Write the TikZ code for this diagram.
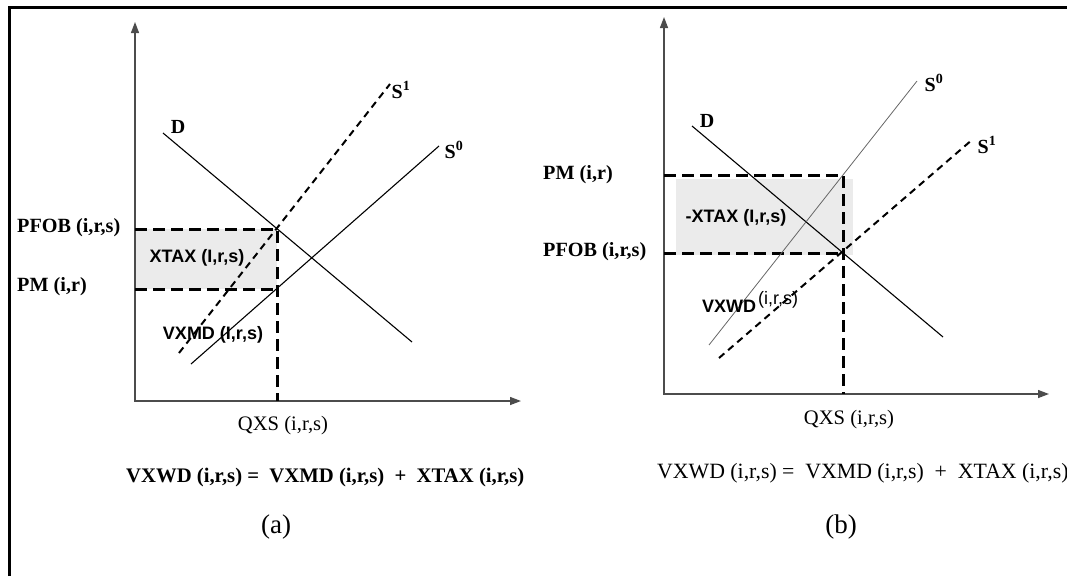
\documentclass[tikz,border=0pt]{standalone}
\usepackage{fontspec}
\setmainfont{Liberation Serif}
\setsansfont{Liberation Sans}
\usetikzlibrary{arrows.meta}
\begin{document}
\begin{tikzpicture}[x=1pt,y=-1pt,
  axis/.style={draw=black!70, line width=1.3pt, {Triangle[length=11pt,width=8pt]}-{Triangle[length=11pt,width=8pt]}},
  curve/.style={line width=1.1pt},
  thincurve/.style={draw=black!60, line width=0.8pt},
  dcurve/.style={line width=2pt, dash pattern=on 7pt off 5pt},
  guide/.style={line width=3pt, dash pattern=on 12pt off 6pt},
  shade/.style={fill=black!8},
  lbl/.style={font=\fontsize{20.2}{23}\selectfont\bfseries, anchor=west, inner sep=0pt},
  slbl/.style={font=\fontsize{18}{21}\selectfont\sffamily\bfseries, inner sep=0pt},
  clbl/.style={font=\fontsize{20}{23}\selectfont\bfseries, inner sep=0pt},
  qlbl/.style={font=\fontsize{20.6}{23}\selectfont, inner sep=0pt},
  eqbold/.style={font=\fontsize{20.7}{24}\selectfont\bfseries, anchor=west, inner sep=0pt},
  eqreg/.style={font=\fontsize{21.8}{25}\selectfont, anchor=west, inner sep=0pt},
  captxt/.style={font=\fontsize{27}{31}\selectfont, inner sep=0pt}
]
\useasboundingbox (0,0) rectangle (1067,576);
% frame
\draw[line width=2.7pt] (9.3,576) -- (9.3,7.2) -- (1067,7.2);

% ---------------- panel (a) ----------------
\coordinate (Oa) at (135,401);
\coordinate (Ya) at (135,22);
\coordinate (Xa) at (521,401);
\coordinate (Ta) at (135,229);
\coordinate (Ma) at (135,289);
\coordinate (Pa) at (277,229);
\coordinate (Qa) at (277,289);
\coordinate (Ba) at (277,401);
\fill[shade] (Ta) rectangle (Qa);
\draw[axis] (Ya) -- (Oa) -- (Xa);
\draw[guide] (Ta) -- (Pa) -- (Ba);
\draw[guide] (Ma) -- (Qa);
\coordinate (Da1) at (163,133);
\coordinate (Da2) at (412,342);
\coordinate (S0a1) at (191,364);
\coordinate (S0a2) at (439,146);
\coordinate (S1a1) at (179,353);
\coordinate (S1a2) at (390,84);
\draw[curve] (Da1) -- (Da2);
\draw[curve] (S0a1) -- (S0a2);
\draw[dcurve] (S1a1) -- (S1a2);
\node[lbl] (pfoba) at (17,228) {PFOB (i,r,s)};
\node[lbl] (pma) at (17,287) {PM (i,r)};
\node[slbl] (xtaxa) at (197,258) {XTAX (I,r,s)};
\node[slbl] (vxmda) at (213,335) {VXMD (I,r,s)};
\node[clbl] (da) at (178,127) {D};
\node[clbl] (s1a) at (401,90) {S\textsuperscript{1}};
\node[clbl] (s0a) at (454,150) {S\textsuperscript{0}};
\node[qlbl] (qxsa) at (283,426) {QXS (i,r,s)};
\node[eqbold] (eqa) at (126,478) {VXWD (i,r,s) =\ \ VXMD (i,r,s)\ \ +\ \ XTAX (i,r,s)};
\node[captxt] (capa) at (276,527) {(a)};

% ---------------- panel (b) ----------------
\coordinate (Ob) at (664,394);
\coordinate (Yb) at (664,17);
\coordinate (Xb) at (1049,394);
\coordinate (Tb) at (664,175);
\coordinate (Mb) at (664,253);
\coordinate (Pb) at (843,175);
\coordinate (Qb) at (843,253);
\coordinate (Bb) at (843,394);
\fill[shade] (676,179) rectangle (853,255);
\draw[axis] (Yb) -- (Ob) -- (Xb);
\draw[guide] (Tb) -- (Pb) -- (Bb);
\draw[guide] (Mb) -- (Qb);
\coordinate (Db1) at (692,126);
\coordinate (Db2) at (943,337);
\coordinate (S0b1) at (709,345);
\coordinate (S0b2) at (917,81);
\coordinate (S1b1) at (719,358);
\coordinate (S1b2) at (973,139);
\draw[curve] (Db1) -- (Db2);
\draw[thincurve] (S0b1) -- (S0b2);
\draw[dcurve] (S1b1) -- (S1b2);
\node[lbl] (pmb) at (543,175) {PM (i,r)};
\node[lbl] (pfobb) at (543,252) {PFOB (i,r,s)};
\node[slbl] (xtaxb) at (736,218) {-XTAX (I,r,s)};
\node[slbl, anchor=west] (vxwdb) at (702,306) {VXWD};
\node[font=\fontsize{18}{20}\selectfont\sffamily, anchor=west, inner sep=0pt] (vxwdargs) at (758,300) {(i,r,s)};
\node[clbl] (db) at (707,121) {D};
\node[clbl] (s0b) at (934,83) {S\textsuperscript{0}};
\node[clbl] (s1b) at (987,145) {S\textsuperscript{1}};
\node[qlbl] (qxsb) at (849,420) {QXS (i,r,s)};
\node[eqreg] (eqb) at (657,473) {VXWD (i,r,s) =\ \ VXMD (i,r,s)\ \ +\ \ XTAX (i,r,s)};
\node[captxt] (capb) at (841,527) {(b)};
\end{tikzpicture}
\end{document}
